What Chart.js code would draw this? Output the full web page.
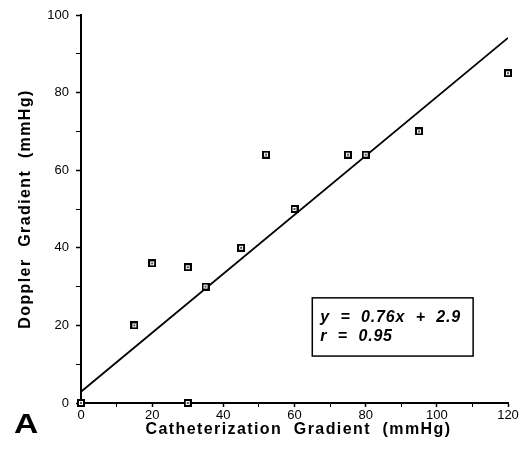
<!DOCTYPE html>
<html><head><meta charset="utf-8">
<script src="https://cdn.jsdelivr.net/npm/chart.js@4"></script>
<style>html,body{margin:0;padding:0;background:#fff}#w{width:526px;height:456px}</style>
</head><body><div id="w"><canvas id="c" width="526" height="456"></canvas></div>
<script>
const catheterization = [0, 15, 20, 30, 30, 35, 45, 52, 60, 75, 80, 95, 120];
const doppler =         [0, 20, 36, 35, 0, 30, 40, 64, 50, 64, 64, 70, 85];
const slope = 0.76, intercept = 2.9;
const fitX = [0, 120];
const xTicks = [0, 20, 40, 60, 80, 100, 120];
const yTicks = [0, 20, 40, 60, 80, 100];
const xTitle = 'Catheterization  Gradient  (mmHg)';
const yTitle = 'Doppler  Gradient  (mmHg)';
const eqLines = ['y  =  0.76x  +  2.9', 'r  =  0.95'];
const panelLabel = 'A';
const FONT = '"Liberation Sans", Arial, sans-serif';

// marker: square with thick black border, white inside, tiny centre dot
const mk = document.createElement('canvas');
mk.width = 8; mk.height = 8;
(function () {
  const g = mk.getContext('2d');
  g.fillStyle = '#000'; g.fillRect(0, 0, 8, 8);
  g.fillStyle = '#fff'; g.fillRect(2, 2, 4, 4);
  g.fillStyle = '#555'; g.fillRect(3, 3, 2, 2);
})();

const textPlugin = {
  id: 'texts',
  afterDraw(chart) {
    const ctx = chart.ctx, xs = chart.scales.x, ys = chart.scales.y;
    const ca = chart.chartArea;
    ctx.save();
    ctx.fillStyle = '#000';
    // axis titles
    ctx.letterSpacing = '1.4px';
    ctx.font = 'bold 16px ' + FONT;
    ctx.textAlign = 'center';
    ctx.textBaseline = 'alphabetic';
    ctx.fillText(xTitle, (ca.left + ca.right) / 2 + 4, 434);
    ctx.save();
    ctx.translate(30, (ca.top + ca.bottom) / 2);
    ctx.rotate(-Math.PI / 2);
    ctx.fillText(yTitle, 0, 0);
    ctx.restore();
    // equation box
    const l = xs.getPixelForValue(65), r = xs.getPixelForValue(110.2);
    const t = ys.getPixelForValue(27.1), b = ys.getPixelForValue(12.1);
    ctx.strokeStyle = '#000'; ctx.lineWidth = 1.5;
    ctx.strokeRect(l, t, r - l, b - t);
    ctx.textAlign = 'left';
    ctx.letterSpacing = '0.8px';
    ctx.font = 'italic bold 16px ' + FONT;
    ctx.fillText(eqLines[0], l + 8, t + 24.5);
    ctx.fillText(eqLines[1], l + 8, t + 43);
    // panel label
    ctx.letterSpacing = '0px';
    ctx.font = 'bold 30px ' + FONT;
    ctx.save();
    ctx.translate(14, 433);
    ctx.scale(1.12, 0.95);
    ctx.fillText(panelLabel, 0, 0);
    ctx.restore();
    ctx.restore();
  }
};

new Chart(document.getElementById('c'), {
  type: 'scatter',
  data: {
    datasets: [
      {
        data: catheterization.map((x, i) => ({x, y: doppler[i]})),
        pointStyle: mk, radius: 4, clip: false, order: 1
      },
      {
        type: 'line',
        data: fitX.map(x => ({x, y: slope * x + intercept})),
        borderColor: '#000', borderWidth: 1.8, pointRadius: 0, fill: false, order: 2
      }
    ]
  },
  options: {
    animation: false, responsive: false,
    layout: {padding: {top: 15, right: 18, left: 0, bottom: 0}},
    plugins: {legend: {display: false}, tooltip: {enabled: false}},
    scales: {
      x: {
        type: 'linear', min: 0, max: 120,
        afterFit(s) { s.height = 53; },
        border: {color: '#000', width: 2},
        grid: {drawOnChartArea: false, tickLength: 4, tickColor: '#000',
               tickWidth: c => (c.tick && c.tick.value % 20 === 0) ? 1.5 : 1},
        ticks: {stepSize: 10, color: '#000', padding: 1, maxRotation: 0,
                font: {family: FONT, size: 13},
                callback: v => xTicks.includes(v) ? String(v) : ''},
        title: {display: false}
      },
      y: {
        type: 'linear', min: 0, max: 100,
        afterFit(s) { s.width = 81; },
        border: {color: '#000', width: 2},
        grid: {drawOnChartArea: false, tickLength: 5, tickColor: '#000',
               tickWidth: c => (c.tick && c.tick.value % 20 === 0) ? 1.5 : 1},
        ticks: {stepSize: 10, color: '#000', padding: 7,
                font: {family: FONT, size: 13},
                callback: v => yTicks.includes(v) ? String(v) : ''},
        title: {display: false}
      }
    }
  },
  plugins: [textPlugin]
});
</script></body></html>
